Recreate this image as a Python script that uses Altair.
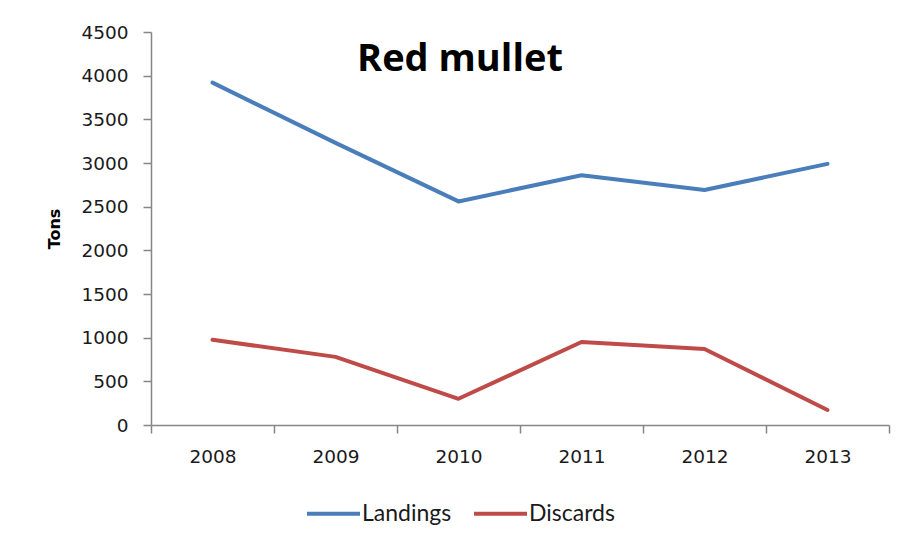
import altair as alt
import pandas as pd

years = [2008, 2009, 2010, 2011, 2012, 2013]
landings = [3920, 3230, 2560, 2860, 2690, 2990]
discards = [975, 780, 300, 950, 870, 172]
series = ["Landings", "Discards"]
colors = ["#4A7EBB", "#BE4B48"]
y_ticks = [0, 500, 1000, 1500, 2000, 2500, 3000, 3500, 4000, 4500]
x_edges = [2007.5, 2008.5, 2009.5, 2010.5, 2011.5, 2012.5, 2013.5]

rows = []
for yr, l, d in zip(years, landings, discards):
    rows.append({"Year": yr, "Series": "Landings", "Tons": l})
    rows.append({"Year": yr, "Series": "Discards", "Tons": d})
df = pd.DataFrame(rows)

W, H = 738, 393
PAD = {"left": 143, "top": 24, "right": 4, "bottom": 110}
HALF_BAND = W / len(years) / 2

lines = alt.Chart(df).mark_line(strokeWidth=4, strokeCap="round", strokeJoin="round").encode(
    x=alt.X("Year:Q", scale=alt.Scale(domain=[x_edges[0], x_edges[-1]], nice=False, zero=False),
            axis=alt.Axis(title=None, values=x_edges, grid=False, labelAngle=0,
                          labelExpr="datum.value < 2013 ? toString(datum.value + 0.5) : ''",
                          labelOffset=HALF_BAND, labelFlush=False, labelOverlap=False,
                          labelPadding=14, labelFont="DejaVu Sans", labelFontSize=18.5,
                          labelColor="#1a1a1a")),
    y=alt.Y("Tons:Q", scale=alt.Scale(domain=[0, 4500], nice=False),
            axis=alt.Axis(values=y_ticks, format="d", grid=False, title="Tons",
                          titleFont="DejaVu Sans", titleFontSize=16, titleFontWeight="bold",
                          titleColor="#000000", titlePadding=18,
                          labelPadding=15, labelFont="DejaVu Sans", labelFontSize=18.5,
                          labelColor="#1a1a1a")),
    color=alt.Color("Series:N", scale=alt.Scale(domain=series, range=colors),
                    legend=alt.Legend(title=None, orient="none", direction="horizontal",
                                      legendX=154, legendY=453,
                                      symbolType="stroke", symbolSize=2809,
                                      symbolStrokeWidth=4, labelOffset=0,
                                      columnPadding=14, labelFont="Lato",
                                      labelFontSize=23, labelColor="#1a1a1a")),
)

chart = alt.layer(lines).properties(
    width=W, height=H,
    autosize=alt.AutoSizeParams(type="none"),
    padding=PAD,
    background="#ffffff",
    title=alt.TitleParams("Red mullet", font="Open Sans", fontWeight="bold", fontSize=38,
                          color="#000000", anchor="middle", dx=-60, dy=60),
).configure_view(strokeWidth=0, stroke="transparent").configure_axis(
    domainColor="#868686", tickColor="#868686", domainWidth=1.5, tickWidth=1.5, tickSize=8
)

chart.save("out.html", embed_options={"renderer": "svg", "actions": False})
